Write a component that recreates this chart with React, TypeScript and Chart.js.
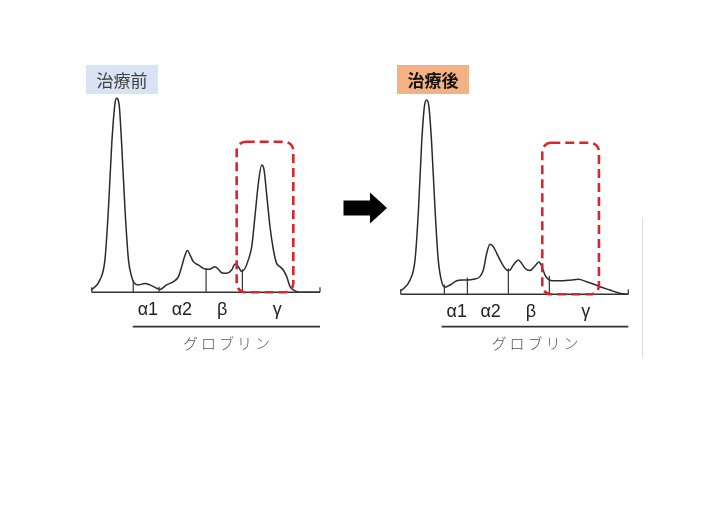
import React, { useEffect, useRef } from "react";
import { Chart, registerables } from "chart.js";

Chart.register(...registerables);

// ---- data (mobility 0..100 along the axis, density 0..100 relative to albumin peak) ----
const beforeX = [0, 3.6, 5.8, 7.3, 8.8, 10.2, 10.9, 12.1, 13.1, 14.6, 16.1, 17.5, 18.5, 20.4, 23.4, 25.5, 28.5, 29.9, 32.8, 35.8, 38.0, 39.4, 40.9, 41.9, 43.1, 44.5, 46.7, 50.1, 51.8, 54.0, 55.5, 56.9, 59.1, 61.3, 62.8, 64.2, 65.7, 67.2, 68.6, 70.1, 71.5, 73.0, 74.5, 75.5, 76.6, 78.1, 79.6, 81.0, 82.5, 83.9, 85.4, 86.9, 89.1, 91.2, 100];
const beforeY = [1.2, 6.4, 16.7, 42.4, 76.8, 97.4, 100, 95.7, 76.8, 42.4, 16.7, 8.1, 5.0, 3.8, 4.6, 3.8, 2.1, 1.5, 3.8, 5.5, 8.1, 13.2, 19.2, 21.5, 19.2, 15.8, 14.1, 11.9, 11.9, 13.2, 11.9, 10.1, 9.8, 11.5, 14.6, 13.2, 10.7, 12.4, 16.7, 23.5, 39.0, 56.2, 65.6, 63.1, 51.0, 33.8, 21.8, 14.9, 13.2, 11.5, 8.1, 2.9, 0.7, 0, 0];

const afterX = [0, 4.1, 6.3, 7.8, 9.2, 10.4, 11.4, 12.4, 13.6, 15.1, 16.5, 18.0, 19.5, 21.7, 24.6, 26.8, 29.3, 31.9, 34.8, 36.3, 37.8, 39.2, 40.7, 42.2, 44.4, 46.6, 47.7, 49.5, 51.7, 53.1, 54.6, 56.8, 59.0, 60.8, 61.9, 63.4, 64.9, 67.1, 71.4, 75.1, 78.0, 81.7, 84.6, 87.6, 91.9, 96.3, 100];
const afterY = [1.7, 7.4, 17.7, 43.4, 77.7, 96.6, 100, 96.6, 77.7, 43.4, 17.7, 6.5, 3.6, 4.8, 7.0, 7.4, 7.4, 7.7, 9.1, 12.5, 21.1, 25.7, 24.5, 21.1, 16.0, 12.5, 12.2, 15.1, 17.7, 16.0, 13.4, 12.2, 14.6, 16.6, 14.6, 9.9, 7.7, 7.0, 7.0, 7.4, 7.7, 6.5, 5.3, 3.9, 2.2, 0.5, 0];

// section dividers (position, height)
const beforeDivX = [18.2, 29.5, 50.1, 66.0];
const beforeDivY = [6.4, 2.9, 12.4, 11.9];
const afterDivX = [19.2, 29.3, 47.3, 65.3];
const afterDivY = [5.0, 8.5, 13.4, 9.5];

// fraction labels
const fractionNames = ["α1", "α2", "β", "γ"];
const fractionPos = [24.6, 39.5, 57.2, 81.3];
const globulinLabel = "グロブリン";
const globulinRange = [18.0, 100];
const globulinCenter = 59;

// highlighted gamma region
const beforeBox = [63.5, 88.3, 0, 77.6];
const afterBox = [62.2, 87.1, 0, 78.0];

const titles = ["治療前", "治療後"];

type PanelCfg = {
  xs: number[];
  ys: number[];
  divX: number[];
  divY: number[];
  box: number[];
  title: string;
  titleBg: string;
  titleColor: string;
  titleWeight: string;
  titleRect: [number, number, number, number];
  area: { left: number; right: number; top: number; bottom: number };
  extra?: (ctx: CanvasRenderingContext2D) => void;
};

function makePlugin(cfg: PanelCfg) {
  return {
    id: "panelDecor",
    afterDatasetsDraw(chart: any) {
      const ctx: CanvasRenderingContext2D = chart.ctx;
      const xs = chart.scales.x;
      const ys = chart.scales.y;
      const px = (v: number) => xs.getPixelForValue(v);
      const py = (v: number) => ys.getPixelForValue(v);
      const base = py(0);
      ctx.save();
      // baseline
      ctx.strokeStyle = "#333";
      ctx.lineWidth = 1.5;
      ctx.beginPath();
      ctx.moveTo(px(0), base);
      ctx.lineTo(px(100), base);
      ctx.stroke();
      // end ticks
      ctx.lineWidth = 1.2;
      ctx.beginPath();
      ctx.moveTo(px(0), base);
      ctx.lineTo(px(0), base - 5);
      ctx.moveTo(px(100), base);
      ctx.lineTo(px(100), base - 5);
      ctx.stroke();
      // dividers
      ctx.lineWidth = 1.2;
      ctx.strokeStyle = "#333";
      cfg.divX.forEach((d, i) => {
        ctx.beginPath();
        ctx.moveTo(px(d), base);
        ctx.lineTo(px(d), py(cfg.divY[i]));
        ctx.stroke();
      });
      // red dashed box
      const [bx0, bx1, by0, by1] = cfg.box;
      ctx.strokeStyle = "#d7262c";
      ctx.lineWidth = 2.6;
      ctx.setLineDash([9, 5]);
      ctx.beginPath();
      (ctx as any).roundRect(px(bx0), py(by1), px(bx1) - px(bx0), py(by0) - py(by1), 9);
      ctx.stroke();
      ctx.setLineDash([]);
      // fraction labels
      ctx.fillStyle = "#222";
      ctx.font = '18px "Liberation Sans", Arial, sans-serif';
      ctx.textAlign = "center";
      ctx.textBaseline = "middle";
      fractionNames.forEach((n, i) => {
        ctx.fillText(n, px(fractionPos[i]), base + 18);
      });
      // underline
      ctx.strokeStyle = "#333";
      ctx.lineWidth = 1.8;
      ctx.beginPath();
      ctx.moveTo(px(globulinRange[0]), 326.7);
      ctx.lineTo(px(globulinRange[1]), 326.7);
      ctx.stroke();
      // globulin label
      ctx.fillStyle = "#555";
      ctx.font = '300 15px "Noto Sans CJK JP", sans-serif';
      (ctx as any).letterSpacing = "3px";
      ctx.fillText(globulinLabel, px(globulinCenter) + 1.5, 343.5);
      (ctx as any).letterSpacing = "0px";
      // title box
      const [tx, ty, tw, th] = cfg.titleRect;
      ctx.fillStyle = cfg.titleBg;
      ctx.fillRect(tx, ty, tw, th);
      ctx.fillStyle = cfg.titleColor;
      ctx.font = `${cfg.titleWeight} 17px "Noto Sans CJK JP", sans-serif`;
      ctx.fillText(cfg.title, tx + tw / 2, ty + th / 2 + 1);
      if (cfg.extra) cfg.extra(ctx);
      ctx.restore();
    },
  };
}

function Panel({ cfg }: { cfg: PanelCfg }) {
  const ref = useRef<HTMLCanvasElement>(null);
  useEffect(() => {
    if (!ref.current) return;
    const W = 707;
    const H = 530;
    const chart = new Chart(ref.current, {
      type: "line",
      data: {
        datasets: [
          {
            data: cfg.xs.map((x, i) => ({ x, y: cfg.ys[i] })),
            borderColor: "#2b2b2b",
            borderWidth: 1.5,
            pointRadius: 0,
            cubicInterpolationMode: "monotone",
            fill: false,
            clip: false as any,
          },
        ],
      },
      options: {
        responsive: false,
        animation: false,
        events: [],
        layout: {
          padding: {
            left: cfg.area.left,
            right: W - cfg.area.right,
            top: cfg.area.top,
            bottom: H - cfg.area.bottom,
          },
        },
        plugins: { legend: { display: false }, tooltip: { enabled: false }, title: { display: false } },
        scales: {
          x: { type: "linear", min: 0, max: 100, display: false },
          y: { type: "linear", min: 0, max: 100, display: false },
        },
      },
      plugins: [makePlugin(cfg)],
    } as any);
    return () => chart.destroy();
  }, [cfg]);
  return (
    <canvas
      ref={ref}
      width={707}
      height={530}
      style={{ position: "absolute", left: 0, top: 0, width: 707, height: 530 }}
    />
  );
}

const leftCfg: PanelCfg = {
  xs: beforeX,
  ys: beforeY,
  divX: beforeDivX,
  divY: beforeDivY,
  box: beforeBox,
  title: titles[0],
  titleBg: "#dae3f3",
  titleColor: "#404040",
  titleWeight: "400",
  titleRect: [86, 65, 72, 29],
  area: { left: 91.7, right: 320, top: 98.3, bottom: 292.3 },
  extra: (ctx) => {
    // arrow
    ctx.fillStyle = "#000";
    ctx.beginPath();
    ctx.moveTo(343.5, 200.5);
    ctx.lineTo(370, 200.5);
    ctx.lineTo(370, 192.5);
    ctx.lineTo(387, 208);
    ctx.lineTo(370, 223.5);
    ctx.lineTo(370, 215.5);
    ctx.lineTo(343.5, 215.5);
    ctx.closePath();
    ctx.fill();
  },
};

const rightCfg: PanelCfg = {
  xs: afterX,
  ys: afterY,
  divX: afterDivX,
  divY: afterDivY,
  box: afterBox,
  title: titles[1],
  titleBg: "#f4b183",
  titleColor: "#111",
  titleWeight: "700",
  titleRect: [397, 65, 72, 29],
  area: { left: 400.7, right: 628.3, top: 100, bottom: 294.3 },
  extra: (ctx) => {
    ctx.strokeStyle = "#dcdcdc";
    ctx.lineWidth = 1;
    ctx.beginPath();
    ctx.moveTo(642.5, 218);
    ctx.lineTo(642.5, 357);
    ctx.stroke();
  },
};

export default function App() {
  return (
    <div style={{ position: "absolute", left: 0, top: 0, width: 707, height: 530, background: "#fff" }}>
      <Panel cfg={leftCfg} />
      <Panel cfg={rightCfg} />
    </div>
  );
}
